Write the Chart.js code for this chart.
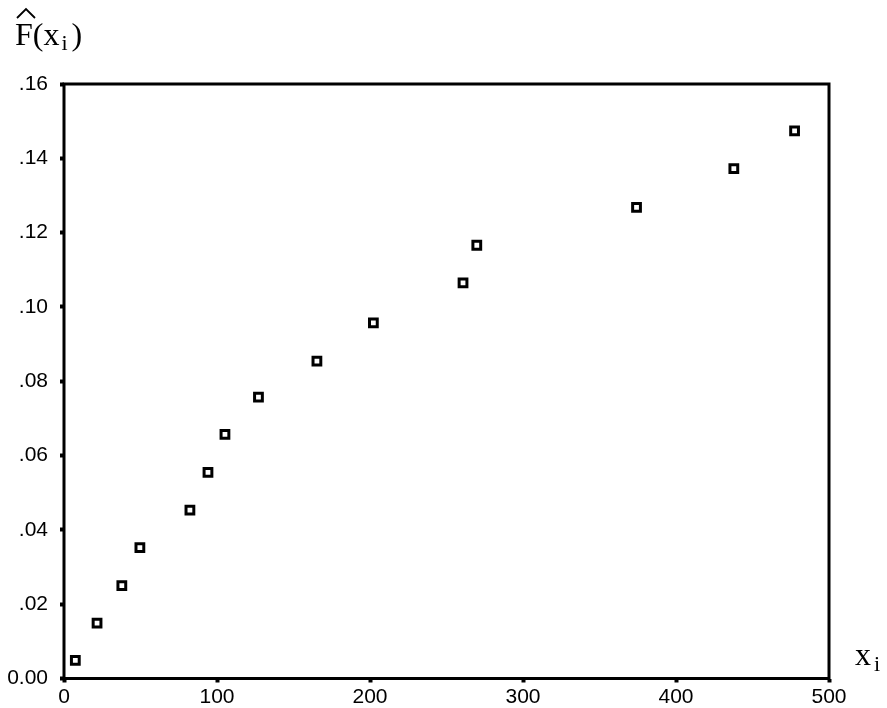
<!DOCTYPE html>
<html>
<head>
<meta charset="utf-8">
<script src="https://cdn.jsdelivr.net/npm/chart.js@4/dist/chart.umd.min.js"></script>
<style>
  html, body { margin: 0; padding: 0; background: #fff; }
  #wrap { width: 887px; height: 708px; }
</style>
</head>
<body>
<div id="wrap"><canvas id="chart" width="887" height="708"></canvas></div>
<script>
// observations: x_i and the estimated F(x_i)
const xValues = [7.4, 21.6, 37.8, 49.6, 82.3, 94.1, 105.2, 127.1, 165.3, 202.2, 260.8, 269.8, 374.2, 437.8, 477.5];
const fValues = [0.0049, 0.0149, 0.025, 0.0352, 0.0453, 0.0555, 0.0657, 0.0757, 0.0854, 0.0957, 0.1065, 0.1166, 0.1268, 0.1372, 0.1474];

const xTicks = [0, 100, 200, 300, 400, 500];
const yTicks = [0, 0.02, 0.04, 0.06, 0.08, 0.10, 0.12, 0.14, 0.16];

const sansFont = '"Liberation Sans", Arial, sans-serif';
const serifFont = '"Liberation Serif", "Times New Roman", serif';

const points = xValues.map((x, i) => ({ x: x, y: fValues[i] }));

// y labels read ".02", ".14" etc., zero is "0.00"
const yLabel = v => v === 0 ? '0.00' : v.toFixed(2).replace(/^0/, '');

// frame around the plot + the axis captions
const framePlugin = {
  id: 'frame',
  afterDraw: (chart) => {
    const ctx = chart.ctx;
    const a = chart.chartArea;
    ctx.save();
    ctx.strokeStyle = '#000';
    ctx.lineWidth = 3;
    ctx.strokeRect(a.left, a.top, a.right - a.left, a.bottom - a.top);

    ctx.fillStyle = '#000';
    ctx.textBaseline = 'alphabetic';
    ctx.textAlign = 'left';

    // F-hat(x_i) at the top left
    ctx.font = `32px ${serifFont}`;
    ctx.fillText('F', 15, 45);
    const fw = ctx.measureText('F').width;
    ctx.fillText('(x', 15 + fw, 45);
    const w2 = ctx.measureText('(x').width;
    ctx.font = `22px ${serifFont}`;
    ctx.fillText('i', 15 + fw + w2 + 2, 50);
    ctx.font = `32px ${serifFont}`;
    ctx.fillText(')', 15 + fw + w2 + 12, 45);

    // the hat over F
    ctx.lineWidth = 1.8;
    ctx.beginPath();
    ctx.moveTo(17, 18);
    ctx.lineTo(26, 9);
    ctx.lineTo(35, 18);
    ctx.stroke();

    // x_i at the end of the horizontal axis
    ctx.font = `32px ${serifFont}`;
    ctx.fillText('x', 855, 665);
    ctx.font = `22px ${serifFont}`;
    ctx.fillText('i', 874, 671);
    ctx.restore();
  }
};

new Chart(document.getElementById('chart').getContext('2d'), {
  type: 'scatter',
  data: {
    datasets: [{
      data: points,
      pointStyle: 'rect',
      pointRadius: 5.5,
      pointHoverRadius: 5.5,
      borderColor: '#000',
      backgroundColor: '#fff',
      borderWidth: 3,
    }],
  },
  options: {
    responsive: false,
    animation: false,
    layout: {
      padding: { top: 84, right: 58, left: 0, bottom: 0 },
    },
    scales: {
      x: {
        type: 'linear',
        min: 0,
        max: 500,
        afterFit: (scale) => { scale.height = 29.5; },
        afterBuildTicks: (scale) => { scale.ticks = xTicks.map(v => ({ value: v })); },
        grid: {
          display: true,
          drawOnChartArea: false,
          drawTicks: true,
          tickLength: 4,
          tickWidth: 4,
          tickColor: '#000',
        },
        border: { display: false },
        ticks: {
          color: '#000',
          font: { family: sansFont, size: 21 },
          padding: 2,
          maxRotation: 0,
          autoSkip: false,
        },
      },
      y: {
        type: 'linear',
        min: 0,
        max: 0.16,
        afterFit: (scale) => { scale.width = 64; },
        afterBuildTicks: (scale) => { scale.ticks = yTicks.map(v => ({ value: v })); },
        grid: {
          display: true,
          drawOnChartArea: false,
          drawTicks: true,
          tickLength: 4,
          tickWidth: 4,
          tickColor: '#000',
        },
        border: { display: false },
        ticks: {
          color: '#000',
          font: { family: sansFont, size: 21 },
          padding: 12,
          autoSkip: false,
          callback: (v) => yLabel(v),
        },
      },
    },
    plugins: {
      legend: { display: false },
      tooltip: { enabled: false },
      title: { display: false },
    },
  },
  plugins: [framePlugin],
});
</script>
</body>
</html>
